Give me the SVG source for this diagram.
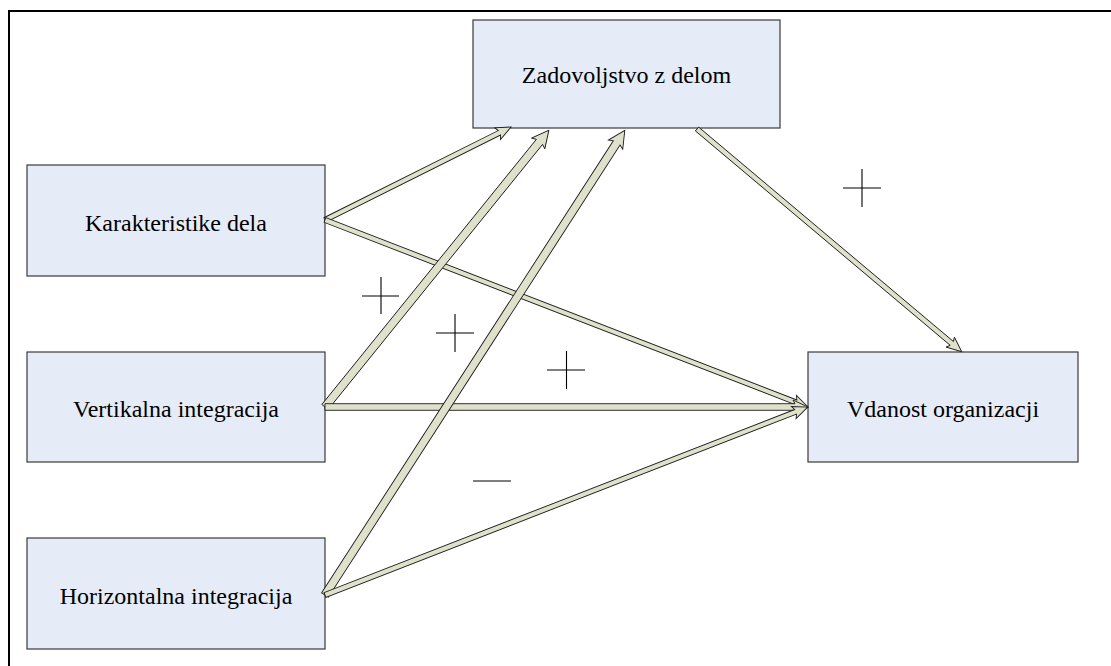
<svg xmlns="http://www.w3.org/2000/svg" width="1111" height="666" viewBox="0 0 1111 666">
<style>
.box{fill:#e6ecf7;stroke:#3a3a3a;stroke-width:1.2}
.lbl{font-family:"Liberation Serif","Times New Roman",serif;font-size:24px;fill:#000;text-anchor:middle}
.arr{fill:#dfe1cb;stroke:#1a1a1a;stroke-width:0.9;stroke-linejoin:miter}
.sign{stroke:#000;stroke-width:1.1;fill:none}
</style>
<rect width="1111" height="666" fill="#fff"/>
<path d="M9,680 V11 H1120" fill="none" stroke="#000" stroke-width="2"/>
<g id="node-zadovoljstvo"><rect class="box" x="473" y="20" width="307" height="108"/><text class="lbl" x="626.5" y="83">Zadovoljstvo z delom</text></g>
<g id="node-karakteristike"><rect class="box" x="27" y="165" width="298" height="111"/><text class="lbl" x="176" y="231">Karakteristike dela</text></g>
<g id="node-vertikalna"><rect class="box" x="27" y="352" width="298" height="110"/><text class="lbl" x="176" y="417">Vertikalna integracija</text></g>
<g id="node-horizontalna"><rect class="box" x="27" y="538" width="298" height="111"/><text class="lbl" x="176" y="604">Horizontalna integracija</text></g>
<g id="node-vdanost"><rect class="box" x="808" y="352" width="270" height="110"/><text class="lbl" x="943" y="417">Vdanost organizacji</text></g>
<g id="connectors">
<g transform="translate(325,220) rotate(-26.57)"><polygon class="arr" points="0,-2.5 195,-2.5 193,-6.5 208,0 193,6.5 195,2.5 0,2.5"/></g>
<g transform="translate(325,220) rotate(21.16)"><polygon class="arr" points="0,-2.5 505,-2.5 503,-6.5 518,0 503,6.5 505,2.5 0,2.5"/></g>
<g transform="translate(325,407) rotate(-51.03)"><polygon class="arr" points="0,-4 341,-4 339,-8.5 356,0 339,8.5 341,4 0,4"/></g>
<g transform="translate(325,407)"><polygon class="arr" points="0,-3.3 470,-3.3 468,-7 483,0 468,7 470,3.3 0,3.3"/></g>
<g transform="translate(325,595) rotate(-57.17)"><polygon class="arr" points="0,-4 538,-4 536,-8.5 553,0 536,8.5 538,4 0,4"/></g>
<g transform="translate(325,595) rotate(-21.27)"><polygon class="arr" points="0,-2.5 505,-2.5 503,-6.5 518,0 503,6.5 505,2.5 0,2.5"/></g>
<g transform="translate(697,129) rotate(40.08)"><polygon class="arr" points="0,-2.5 333,-2.5 331,-6.5 346,0 331,6.5 333,2.5 0,2.5"/></g>
</g>
<g id="signs">
<path class="sign" d="M362,296 H399 M381,277 V314"/>
<path class="sign" d="M436,333 H474 M455,314 V352"/>
<path class="sign" d="M547,370 H585 M566.5,351 V389"/>
<path class="sign" d="M473,481 H511"/>
<path class="sign" d="M843,188 H881 M862,169 V207"/>
</g>
</svg>
